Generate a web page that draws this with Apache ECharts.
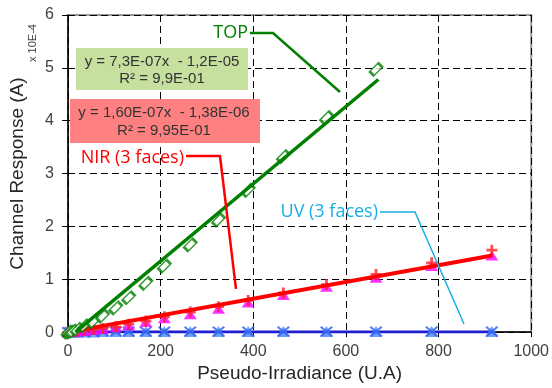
<!DOCTYPE html>
<html><head><meta charset="utf-8">
<script src="https://cdn.jsdelivr.net/npm/echarts@6/dist/echarts.min.js"></script>
<style>html,body{margin:0;padding:0;background:#fff}#c{width:552px;height:388px}</style>
</head><body><div id="c"></div>
<script>
// Data (y in units of 1E-4 A)
var xVals = [0, 5, 10, 20, 35, 55, 75, 103, 131, 168, 208, 264, 325, 389, 465, 558, 665, 785, 915];
var topVals = [0, 0, 0.02, 0.05, 0.12, 0.2, 0.3, 0.46, 0.65, 0.92, 1.25, 1.65, 2.12, 2.68, 3.32, 4.06, 4.97];
var nirPlus = [0, 0, 0.01, 0.02, 0.03, 0.05, 0.07, 0.1, 0.15, 0.21, 0.29, 0.38, 0.48, 0.6, 0.74, 0.9, 1.09, 1.31, 1.55];
var nirTri = [0, 0, 0, 0.01, 0.02, 0.04, 0.06, 0.09, 0.13, 0.19, 0.26, 0.34, 0.44, 0.56, 0.7, 0.86, 1.03, 1.25, 1.45];
var uvVals = [0, 0, 0, 0, 0, 0, 0.01, 0.01, 0.01, 0.01, 0.01, 0.01, 0.01, 0.01, 0.01, 0.01, 0.01, 0.01, 0.01];
var topFitX = [16, 670], topFitY = [0, 4.78];
var nirFitX = [0, 916], nirFitY = [0, 1.45];
var uvFitX = [0, 916], uvFitY = [0, 0];
var xTicks = [0, 200, 400, 600, 800, 1000];
var yTicks = [0, 1, 2, 3, 4, 5, 6];

function pairs(xs, ys){ var o=[]; for(var i=0;i<ys.length;i++) o.push([xs[i], ys[i]]); return o; }

var chart = echarts.init(document.getElementById('c'));
var plusPath = 'path://M3,0H5V3H8V5H5V8H3V5H0V3H3Z';
var xPath = 'path://M0,1L1,0L4,3L7,0L8,1L5,4L8,7L7,8L4,5L1,8L0,7L3,4Z';
var axisFont = {fontFamily:'Liberation Sans, Arial', fontSize:16, color:'#404040'};
var fmt = function(v){ return String(v); };
chart.setOption({
  animation:false,
  grid:{left:67, right:20, top:15, bottom:54, show:true, borderColor:'#999', borderWidth:2, backgroundColor:'transparent'},
  xAxis:{type:'value', min:xTicks[0], max:xTicks[xTicks.length-1], interval:200,
    name:'Pseudo-Irradiance (U.A)', nameLocation:'middle', nameGap:30,
    nameTextStyle:{fontFamily:'Liberation Sans, Arial', fontSize:19, color:'#262626'},
    axisLine:{lineStyle:{color:'#000', width:1.5}},
    axisTick:{show:true, length:5, lineStyle:{color:'#000'}},
    axisLabel:Object.assign({margin:11, formatter:fmt}, axisFont),
    splitLine:{show:true, lineStyle:{color:'#000', type:[7,4], width:1}}},
  yAxis:{type:'value', min:yTicks[0], max:yTicks[yTicks.length-1], interval:1,
    name:'Channel Response (A)', nameLocation:'middle', nameGap:41, nameRotate:90,
    nameTextStyle:{fontFamily:'Liberation Sans, Arial', fontSize:19, color:'#262626'},
    axisLine:{show:true, lineStyle:{color:'#000', width:1.5}},
    axisTick:{show:true, length:6, lineStyle:{color:'#000'}},
    axisLabel:Object.assign({margin:14, formatter:fmt}, axisFont),
    splitLine:{show:true, lineStyle:{color:'#000', type:[7,4], width:1}}},
  series:[
    {type:'line', data:pairs(uvFitX, uvFitY), symbol:'none', lineStyle:{color:'#1f1fcf', width:3}, z:2},
    {type:'scatter', data:pairs(xVals, uvVals), symbol:'triangle', symbolSize:[13,11], itemStyle:{color:'#4a86ff'}, z:3},
    {type:'scatter', data:pairs(xVals, uvVals), symbol:xPath, symbolSize:[13,11], itemStyle:{color:'#2f62ef'}, z:3},
    {type:'scatter', data:pairs(xVals, nirTri), symbol:'triangle', symbolSize:[13,10], itemStyle:{color:'#ff00ff'}, z:4},
    {type:'scatter', data:pairs(xVals, nirPlus), symbol:plusPath, symbolSize:11, itemStyle:{color:'#ff2020'}, z:4},
    {type:'line', data:pairs(nirFitX, nirFitY), symbol:'none', lineStyle:{color:'#ff0000', width:4}, z:5},
    {type:'scatter', data:pairs(xVals, topVals), symbol:'rect', symbolSize:[12,6], symbolRotate:45,
      itemStyle:{color:'#fff', borderColor:'#008000', borderWidth:2}, z:6},
    {type:'line', data:pairs(topFitX, topFitY), symbol:'none', lineStyle:{color:'#008000', width:3.5}, z:7}
  ],
  graphic:[
    {type:'text', x:27, y:62, rotation:Math.PI/2, style:{text:'x 10E-4', font:'11px Liberation Sans, Arial', fill:'#404040'}},
    {type:'rect', shape:{x:76, y:48, width:172, height:42}, style:{fill:'#c6e0a0'}, z:10},
    {type:'text', x:162, y:62, style:{text:'y = 7,3E-07x  - 1,2E-05', font:'15px Liberation Sans, Arial', fill:'#333', align:'center', verticalAlign:'middle'}, z:11},
    {type:'text', x:162, y:79, style:{text:'R² = 9,9E-01', font:'15px Liberation Sans, Arial', fill:'#333', align:'center', verticalAlign:'middle'}, z:11},
    {type:'rect', shape:{x:70, y:99, width:190, height:44}, style:{fill:'#ff8080'}, z:10},
    {type:'text', x:164, y:113, style:{text:'y = 1,60E-07x  - 1,38E-06', font:'15px Liberation Sans, Arial', fill:'#333', align:'center', verticalAlign:'middle'}, z:11},
    {type:'text', x:164, y:131, style:{text:'R² = 9,95E-01', font:'15px Liberation Sans, Arial', fill:'#333', align:'center', verticalAlign:'middle'}, z:11},
    {type:'text', x:248, y:33, style:{text:'TOP', font:'18px Open Sans', fill:'#008000', align:'right', verticalAlign:'middle'}, z:11},
    {type:'polyline', shape:{points:[[250,33],[273,33],[340,92]]}, style:{stroke:'#008000', lineWidth:2.5, fill:null}, z:11},
    {type:'text', x:184, y:158, style:{text:'NIR (3 faces)', font:'18px Open Sans', fill:'#ff0000', align:'right', verticalAlign:'middle'}, z:11},
    {type:'polyline', shape:{points:[[186,156],[220,156],[236,289]]}, style:{stroke:'#ff0000', lineWidth:2.5, fill:null}, z:11},
    {type:'text', x:378, y:212, style:{text:'UV (3 faces)', font:'18px Open Sans', fill:'#1aaee6', align:'right', verticalAlign:'middle'}, z:11},
    {type:'polyline', shape:{points:[[380,212],[415,212],[464,324]]}, style:{stroke:'#1aaee6', lineWidth:1.5, fill:null}, z:11}
  ]
});
</script></body></html>
